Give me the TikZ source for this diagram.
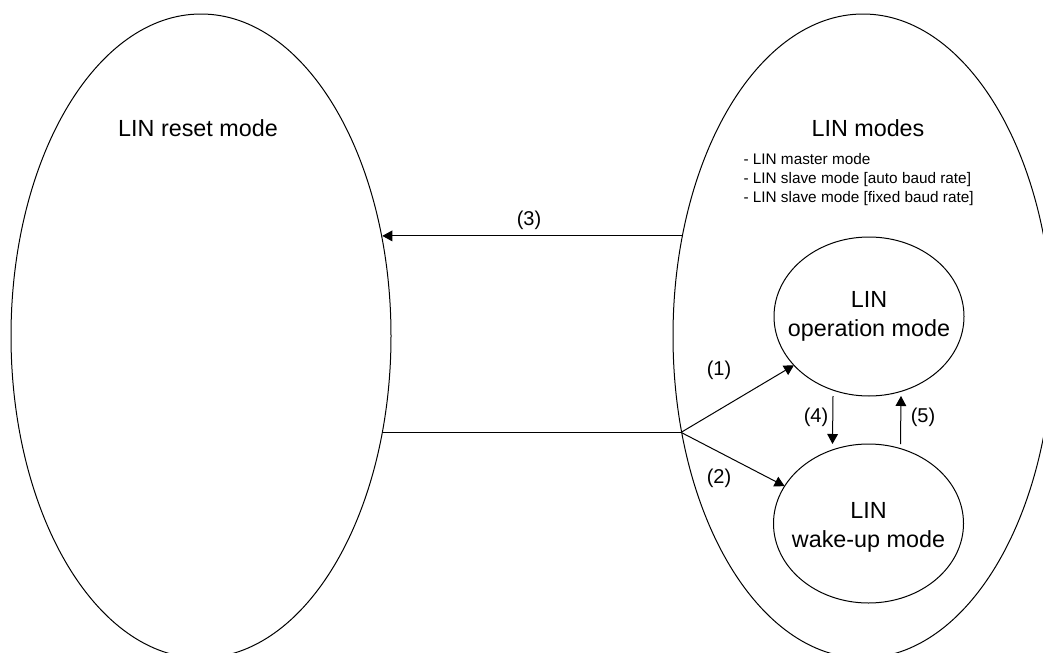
\documentclass[tikz,border=0pt]{standalone}
\usepackage{fontspec}
\setmainfont{Liberation Sans}
\usetikzlibrary{arrows.meta, shapes.geometric}

\begin{document}
\begin{tikzpicture}[x=0.75pt, y=-0.75pt, line width=0.75pt,
    bigell/.style={draw, ellipse, inner sep=0pt, outer sep=0pt, minimum width=285pt, minimum height=483pt},
    smallell/.style={draw, ellipse, inner sep=0pt, outer sep=0pt, minimum width=142.5pt, minimum height=119.25pt},
    title/.style={font=\fontsize{17.5}{21.75}\selectfont, align=center},
    num/.style={font=\fontsize{15}{18}\selectfont},
    arr/.style={-{Triangle[length=7.5pt, width=8pt]}}]
    \useasboundingbox (0,0) rectangle (1043,653);

    % Outer modes
    \node[bigell] (reset) at (201,336) {};
    \node[bigell] (modes) at (863,336) {};
    \node[title] (resettext) at (198,128) {LIN reset mode};
    \node[title] (modestext) at (868,128) {LIN modes};
    \node[anchor=west, align=left, inner sep=0pt, font=\fontsize{11.5}{14.25}\selectfont] (modelist) at (743,180)
        {- LIN master mode\\- LIN slave mode [auto baud rate]\\- LIN slave mode [fixed baud rate]};

    % Inner modes
    \node[smallell] (op) at (869,316.5) {};
    \node[smallell] (wake) at (868.5,523.5) {};
    \node[title] (optext) at (op) {LIN\\operation mode};
    \node[title] (waketext) at (868.5,527) {LIN\\wake-up mode};

    % Transitions
    \coordinate (junc) at (reset.332.65 -| modes.207.35);
    \draw[arr] (modes.151.3) -- (modes.151.3 -| reset.28.7);
    \draw (reset.332.65) -- (junc);
    \draw[arr] (junc) -- (op.213);
    \draw[arr] (junc) -- (wake.156);
    \draw[arr] ([xshift=-27pt]op.south) -- ([xshift=-27pt]wake.north);
    \draw[arr] ([xshift=24pt]wake.north) -- ([xshift=24pt]op.south);

    \node[num] (n1) at (719,370) {(1)};
    \node[num] (n2) at (719,478) {(2)};
    \node[num] (n3) at (529,220) {(3)};
    \node[num] (n4) at (816,417) {(4)};
    \node[num] (n5) at (923,417) {(5)};
\end{tikzpicture}
\end{document}
